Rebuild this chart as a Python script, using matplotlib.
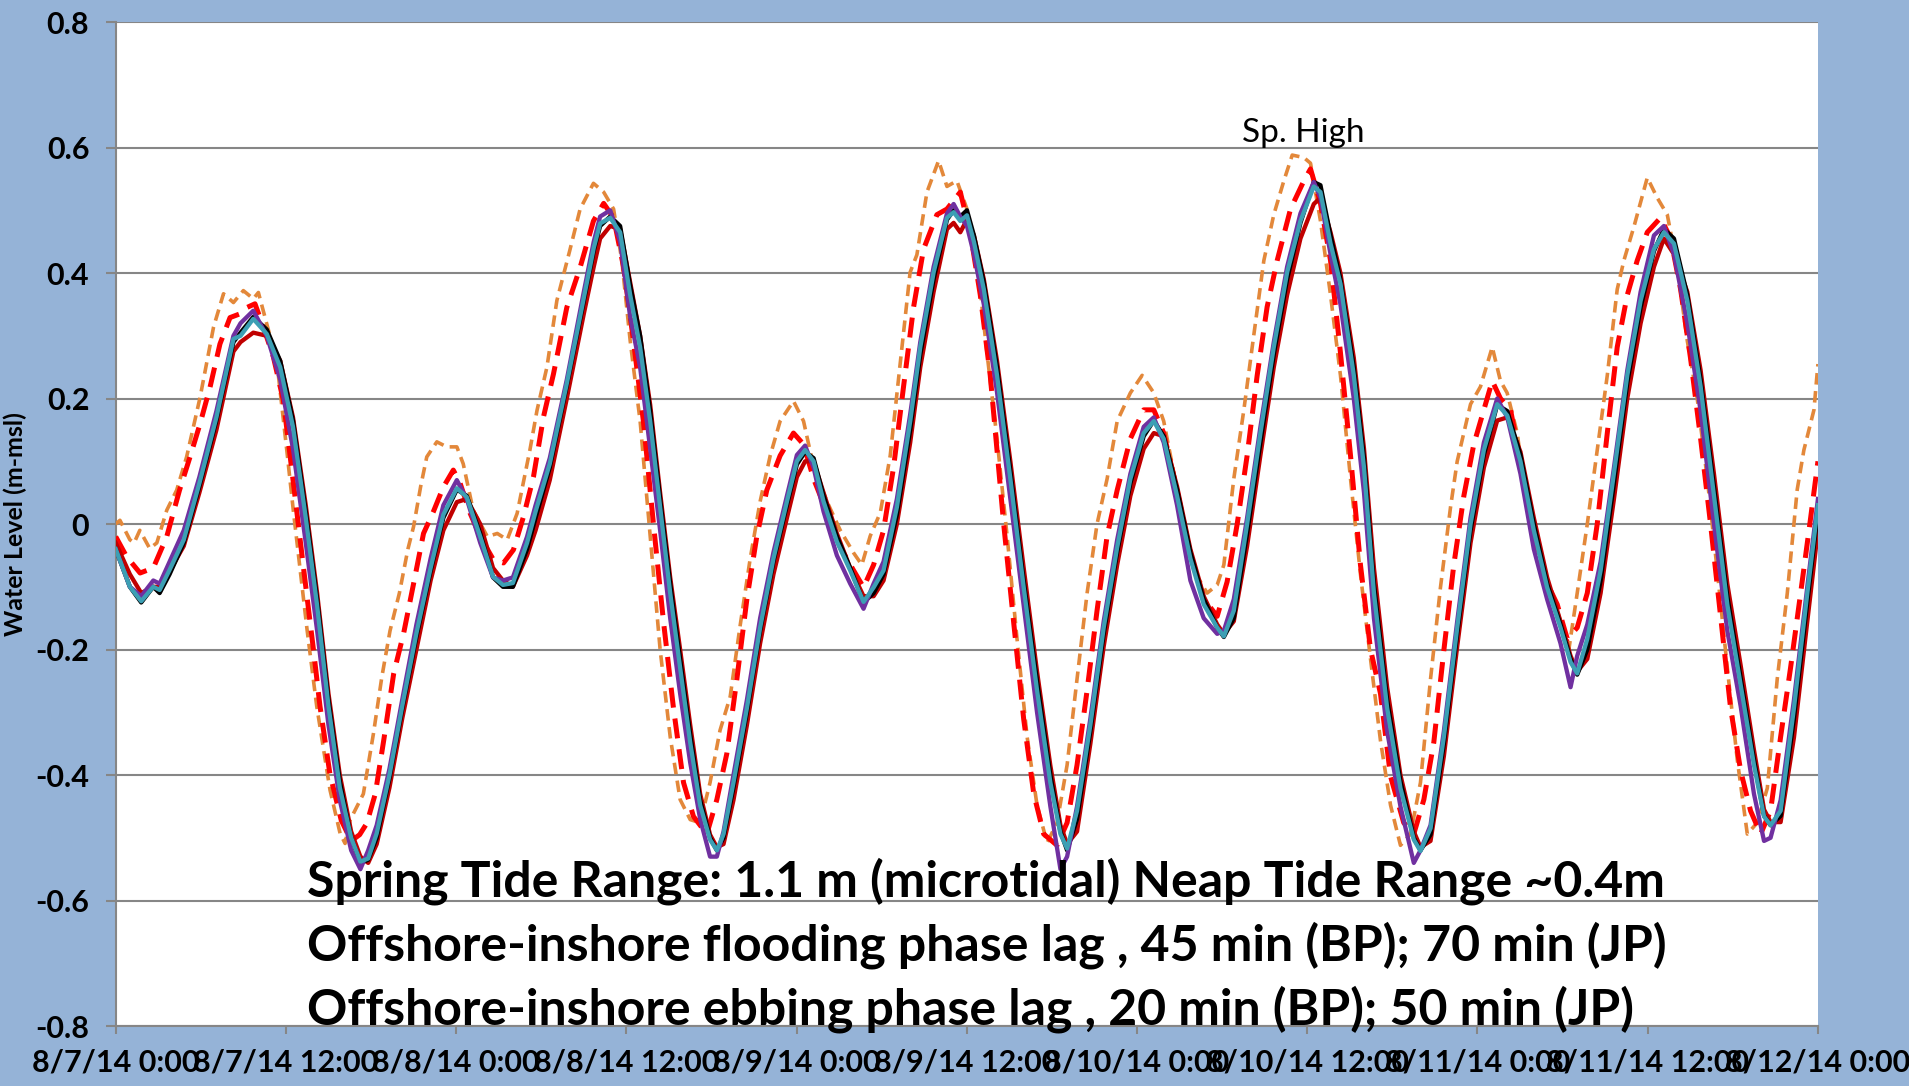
import matplotlib
matplotlib.use('Agg')
import matplotlib.pyplot as plt

# 时间 (小时, 从 8/7/14 0:00 起) 与各测站水位 (m-msl)
t_solid = [0.0, 1.0, 1.8, 2.65, 3.1, 3.8, 4.8, 5.9, 7.1, 8.3, 8.8, 9.7, 10.65, 11.6, 12.5, 13.4,
           14.2, 15.0, 15.8, 16.6, 17.25, 17.8, 18.4, 19.3, 20.2, 21.2, 22.2, 23.1, 24.05, 24.75,
           25.7, 26.6, 27.3, 28.0, 29.0, 29.6, 30.6, 31.8, 33.0, 33.7, 34.15, 34.86, 35.56, 36.27,
           36.97, 37.68, 38.38, 39.09, 39.79, 40.5, 41.2, 41.9, 42.38, 42.85, 43.55, 44.5, 45.43,
           46.37, 47.32, 48.02, 48.6, 49.2, 49.9, 50.84, 51.78, 52.72, 53.43, 54.13, 55.07, 56.01,
           56.72, 57.66, 58.6, 59.07, 59.54, 60.01, 60.5, 61.2, 62.13, 63.07, 64.01, 64.95, 65.89,
           66.6, 67.07, 67.77, 68.71, 69.65, 70.6, 71.53, 72.47, 73.18, 73.88, 74.82, 75.76, 76.7,
           77.65, 78.12, 78.82, 79.76, 80.7, 81.64, 82.58, 83.52, 84.46, 84.93, 85.64, 86.34, 87.28,
           88.0, 88.7, 89.63, 90.57, 91.51, 91.98, 92.69, 93.63, 94.57, 95.51, 96.45, 97.39, 98.1,
           99.03, 99.97, 100.91, 101.85, 102.56, 103.03, 103.74, 104.68, 105.62, 106.56, 107.5,
           108.44, 109.14, 109.85, 110.79, 111.73, 112.67, 113.61, 114.55, 115.49, 116.2, 116.66,
           117.37, 118.31, 119.25, 120.0]

teal = [-0.04, -0.10, -0.123, -0.10, -0.105, -0.073, -0.025, 0.065, 0.17, 0.295, 0.30, 0.327, 0.303,
        0.25, 0.155, 0.01, -0.13, -0.29, -0.42, -0.50, -0.538, -0.533, -0.493, -0.40, -0.29, -0.174,
        -0.07, 0.015, 0.057, 0.043, -0.02, -0.084, -0.097, -0.094, -0.03, 0.02, 0.096, 0.224, 0.36,
        0.44, 0.479, 0.488, 0.465, 0.365, 0.282, 0.164, 0.027, -0.11, -0.229, -0.348, -0.448, -0.503,
        -0.52, -0.494, -0.412, -0.293, -0.165, -0.055, 0.036, 0.10, 0.118, 0.10, 0.036, -0.028,
        -0.074, -0.124, -0.101, -0.074, 0.027, 0.164, 0.282, 0.401, 0.488, 0.497, 0.483, 0.492, 0.45,
        0.374, 0.237, 0.072, -0.101, -0.265, -0.412, -0.494, -0.517, -0.457, -0.32, -0.165, -0.037,
        0.072, 0.145, 0.164, 0.136, 0.045, -0.055, -0.128, -0.165, -0.179, -0.138, 0.0, 0.145, 0.282,
        0.401, 0.483, 0.538, 0.529, 0.447, 0.383, 0.237, 0.09, -0.11, -0.293, -0.421, -0.503, -0.521,
        -0.485, -0.339, -0.165, 0.0, 0.118, 0.191, 0.173, 0.10, -0.01, -0.101, -0.165, -0.22, -0.238,
        -0.183, -0.074, 0.082, 0.237, 0.356, 0.438, 0.465, 0.447, 0.356, 0.219, 0.045, -0.128, -0.256,
        -0.384, -0.466, -0.48, -0.457, -0.293, -0.11, 0.03]

black = [-0.04, -0.10, -0.125, -0.10, -0.11, -0.08, -0.03, 0.06, 0.165, 0.29, 0.305, 0.33, 0.31,
         0.26, 0.165, 0.02, -0.12, -0.28, -0.41, -0.50, -0.54, -0.535, -0.50, -0.405, -0.295, -0.18,
         -0.075, 0.01, 0.055, 0.045, -0.015, -0.085, -0.10, -0.10, -0.04, 0.01, 0.09, 0.22, 0.355,
         0.435, 0.475, 0.49, 0.475, 0.38, 0.30, 0.18, 0.04, -0.095, -0.215, -0.335, -0.44, -0.50,
         -0.52, -0.50, -0.42, -0.30, -0.17, -0.06, 0.03, 0.095, 0.115, 0.105, 0.045, -0.02, -0.07,
         -0.125, -0.11, -0.08, 0.015, 0.15, 0.27, 0.39, 0.485, 0.50, 0.49, 0.50, 0.46, 0.385, 0.25,
         0.085, -0.09, -0.25, -0.40, -0.49, -0.52, -0.47, -0.33, -0.175, -0.045, 0.065, 0.14, 0.165,
         0.14, 0.055, -0.045, -0.12, -0.165, -0.18, -0.15, -0.015, 0.13, 0.27, 0.39, 0.48, 0.545,
         0.54, 0.46, 0.39, 0.25, 0.105, -0.095, -0.28, -0.41, -0.50, -0.52, -0.495, -0.35, -0.175,
         -0.01, 0.11, 0.19, 0.18, 0.11, 0.0, -0.095, -0.16, -0.215, -0.24, -0.20, -0.09, 0.065, 0.225,
         0.345, 0.435, 0.47, 0.455, 0.365, 0.23, 0.06, -0.115, -0.245, -0.375, -0.465, -0.48, -0.465,
         -0.31, -0.125, 0.02]

dark_red = [-0.03, -0.08, -0.11, -0.10, -0.10, -0.075, -0.035, 0.05, 0.15, 0.275, 0.29, 0.305, 0.30,
            0.26, 0.17, 0.03, -0.11, -0.27, -0.40, -0.49, -0.53, -0.54, -0.51, -0.42, -0.31, -0.20,
            -0.09, -0.01, 0.035, 0.04, 0.0, -0.07, -0.09, -0.10, -0.05, -0.01, 0.07, 0.20, 0.335, 0.41,
            0.455, 0.475, 0.47, 0.385, 0.30, 0.19, 0.05, -0.085, -0.20, -0.32, -0.43, -0.495, -0.515,
            -0.51, -0.44, -0.32, -0.19, -0.08, 0.01, 0.075, 0.10, 0.10, 0.05, -0.015, -0.07, -0.115,
            -0.115, -0.09, 0.0, 0.13, 0.25, 0.37, 0.47, 0.48, 0.465, 0.485, 0.46, 0.39, 0.26, 0.10,
            -0.07, -0.235, -0.385, -0.48, -0.51, -0.49, -0.35, -0.195, -0.065, 0.045, 0.12, 0.145,
            0.14, 0.06, -0.04, -0.115, -0.16, -0.175, -0.155, -0.035, 0.11, 0.25, 0.365, 0.455, 0.51,
            0.52, 0.465, 0.40, 0.265, 0.12, -0.07, -0.26, -0.40, -0.49, -0.515, -0.505, -0.37, -0.195,
            -0.03, 0.09, 0.165, 0.17, 0.115, 0.01, -0.085, -0.155, -0.21, -0.235, -0.215, -0.11, 0.04,
            0.20, 0.32, 0.41, 0.455, 0.43, 0.37, 0.245, 0.08, -0.095, -0.225, -0.36, -0.455, -0.475,
            -0.475, -0.34, -0.155, -0.01]

purple = [-0.04, -0.10, -0.115, -0.09, -0.095, -0.06, -0.01, 0.075, 0.18, 0.30, 0.32, 0.34, 0.30,
          0.23, 0.12, -0.03, -0.17, -0.32, -0.44, -0.52, -0.55, -0.52, -0.48, -0.39, -0.28, -0.16,
          -0.055, 0.03, 0.07, 0.04, -0.03, -0.085, -0.09, -0.085, -0.02, 0.03, 0.105, 0.23, 0.37,
          0.45, 0.49, 0.50, 0.45, 0.33, 0.25, 0.12, -0.01, -0.15, -0.27, -0.38, -0.47, -0.53, -0.53,
          -0.49, -0.40, -0.28, -0.15, -0.045, 0.045, 0.11, 0.125, 0.09, 0.02, -0.05, -0.095, -0.135,
          -0.095, -0.06, 0.04, 0.175, 0.29, 0.41, 0.495, 0.51, 0.49, 0.475, 0.43, 0.35, 0.21, 0.04,
          -0.13, -0.30, -0.45, -0.55, -0.53, -0.45, -0.31, -0.155, -0.025, 0.08, 0.155, 0.17, 0.13,
          0.03, -0.09, -0.15, -0.175, -0.17, -0.12, 0.01, 0.155, 0.29, 0.41, 0.495, 0.545, 0.52, 0.43,
          0.35, 0.20, 0.05, -0.15, -0.33, -0.45, -0.54, -0.52, -0.48, -0.33, -0.155, 0.01, 0.13, 0.20,
          0.17, 0.08, -0.04, -0.12, -0.19, -0.26, -0.21, -0.16, -0.06, 0.09, 0.245, 0.37, 0.46, 0.475,
          0.43, 0.32, 0.18, 0.0, -0.17, -0.29, -0.43, -0.505, -0.50, -0.44, -0.28, -0.10, 0.04]

t_orange = [0.0, 0.3, 1.0, 1.3, 1.7, 2.4, 2.9, 3.6, 4.3, 5.0, 5.95, 6.9, 7.6, 8.3, 9.0, 9.7, 10.06,
            10.65, 11.35, 12.06, 12.53, 13.5, 14.17, 15.11, 15.82, 16.17, 16.52, 17.46, 18.17, 18.76,
            19.34, 20.0, 20.6, 21.0, 21.5, 21.93, 22.64, 23.34, 24.05, 24.5, 25.2, 26.2, 26.9, 27.6,
            28.3, 29.2, 29.7, 30.4, 31.1, 32.0, 32.74, 33.68, 34.4, 35.1, 35.68, 36.27, 36.97, 37.68,
            38.38, 39.09, 39.79, 40.5, 41.2, 41.9, 42.6, 43.32, 44.0, 44.73, 45.43, 46.14, 46.84,
            47.78, 48.49, 49.2, 50.14, 51.08, 52.02, 52.6, 53.19, 53.9, 54.6, 55.3, 56.0, 56.48,
            57.19, 58.01, 58.6, 59.3, 60.01, 60.72, 61.42, 62.13, 62.84, 63.54, 64.25, 64.95, 65.66,
            66.36, 67.07, 67.77, 68.48, 69.18, 69.89, 70.6, 71.53, 72.36, 73.18, 73.88, 74.59, 75.3,
            76.23, 76.94, 77.65, 78.12, 78.82, 79.53, 80.23, 80.94, 81.64, 82.35, 82.94, 83.76,
            84.23, 84.93, 85.64, 86.34, 87.05, 87.75, 88.46, 89.16, 89.87, 90.57, 91.28, 91.98,
            92.69, 93.39, 94.1, 94.57, 95.51, 96.21, 97.04, 97.62, 98.09, 98.8, 99.5, 100.44, 101.38,
            102.09, 102.44, 103.03, 103.74, 104.44, 105.15, 105.85, 106.32, 107.03, 107.97, 108.67,
            109.38, 110.08, 110.79, 111.49, 112.2, 112.9, 113.61, 114.31, 115.02, 115.72, 116.43,
            117.13, 117.84, 118.54, 119.01, 119.72, 120.0]
orange = [0.0, 0.006, -0.025, -0.03, -0.01, -0.039, -0.03, 0.022, 0.054, 0.107, 0.202, 0.314, 0.367,
          0.353, 0.372, 0.359, 0.369, 0.319, 0.261, 0.118, 0.02, -0.17, -0.29, -0.424, -0.493,
          -0.509, -0.472, -0.43, -0.334, -0.244, -0.17, -0.11, -0.04, -0.004, 0.06, 0.107, 0.131,
          0.123, 0.123, 0.096, 0.022, -0.02, -0.015, -0.025, 0.017, 0.118, 0.181, 0.25, 0.356,
          0.435, 0.502, 0.543, 0.529, 0.502, 0.42, 0.292, 0.164, -0.019, -0.2, -0.339, -0.439,
          -0.471, -0.476, -0.412, -0.329, -0.275, -0.165, -0.055, 0.036, 0.109, 0.164, 0.196, 0.164,
          0.091, 0.036, -0.01, -0.046, -0.065, -0.019, 0.018, 0.109, 0.255, 0.401, 0.429, 0.529,
          0.579, 0.538, 0.547, 0.502, 0.42, 0.273, 0.136, -0.019, -0.183, -0.339, -0.448, -0.508,
          -0.476, -0.384, -0.247, -0.11, 0.0, 0.072, 0.164, 0.209, 0.237, 0.209, 0.164, 0.082, -0.01,
          -0.083, -0.11, -0.097, -0.065, 0.072, 0.182, 0.301, 0.42, 0.493, 0.547, 0.588, 0.584,
          0.575, 0.483, 0.365, 0.237, 0.072, -0.08, -0.215, -0.345, -0.448, -0.512, -0.494, -0.412,
          -0.247, -0.101, 0.027, 0.1, 0.191, 0.219, 0.282, 0.228, 0.209, 0.145, 0.027, -0.065,
          -0.119, -0.174, -0.2, -0.11, 0.0, 0.118, 0.237, 0.374, 0.42, 0.474, 0.552, 0.52, 0.493,
          0.41, 0.292, 0.2, 0.072, -0.074, -0.229, -0.375, -0.494, -0.476, -0.421, -0.247, -0.11,
          0.055, 0.118, 0.182, 0.255]

t_red = [0.0, 0.77, 1.72, 2.65, 3.6, 4.5, 5.24, 5.95, 6.65, 7.35, 8.06, 8.76, 9.24, 9.82, 10.41,
         11.12, 11.82, 12.53, 13.23, 13.94, 14.4, 15.1, 15.9, 16.6, 17.2, 17.7, 18.3, 18.9, 19.6,
         20.3, 21.0, 21.7, 22.4, 23.1, 23.8, 24.28, 24.99, 25.7, 26.63, 27.34, 28.04, 28.75, 29.45,
         30.16, 30.86, 31.8, 32.74, 33.68, 34.4, 35.1, 35.8, 36.5, 37.2, 37.91, 38.62, 39.32, 40.03,
         40.73, 41.67, 42.38, 43.08, 43.79, 44.5, 45.2, 45.9, 46.84, 47.78, 48.49, 49.2, 50.14,
         51.08, 52.02, 52.72, 53.43, 54.13, 54.84, 55.54, 56.25, 56.95, 57.89, 58.6, 59.54, 60.24,
         60.95, 61.65, 62.6, 63.3, 64.01, 64.72, 65.42, 66.36, 67.07, 67.77, 68.48, 69.18, 69.89,
         70.6, 71.53, 72.47, 73.18, 73.88, 74.82, 75.76, 76.7, 77.65, 78.35, 79.06, 79.76, 80.47,
         81.17, 81.88, 82.82, 83.76, 84.23, 84.93, 85.64, 86.34, 87.05, 87.75, 88.46, 89.16, 89.87,
         90.8, 91.51, 92.22, 92.92, 93.63, 94.33, 95.04, 95.74, 96.45, 97.04, 97.62, 98.33, 99.03,
         99.74, 100.68, 101.62, 102.33, 103.03, 103.74, 104.44, 105.15, 105.85, 106.56, 107.26,
         107.97, 108.9, 109.61, 110.32, 111.02, 111.73, 112.43, 113.14, 113.84, 114.55, 115.25,
         115.96, 116.66, 117.37, 118.07, 118.78, 119.48, 120.0]
red = [-0.02, -0.052, -0.078, -0.07, -0.02, 0.054, 0.107, 0.16, 0.218, 0.287, 0.329, 0.335, 0.345,
       0.351, 0.314, 0.266, 0.197, 0.065, -0.068, -0.2, -0.29, -0.398, -0.472, -0.505, -0.495,
       -0.477, -0.43, -0.344, -0.238, -0.174, -0.095, -0.015, 0.02, 0.059, 0.086, 0.065, 0.017,
       -0.02, -0.057, -0.062, -0.041, 0.012, 0.075, 0.171, 0.239, 0.345, 0.409, 0.483, 0.511, 0.488,
       0.41, 0.292, 0.164, 0.0, -0.156, -0.293, -0.412, -0.466, -0.494, -0.439, -0.366, -0.247,
       -0.119, -0.019, 0.054, 0.109, 0.145, 0.127, 0.072, 0.018, -0.037, -0.074, -0.101, -0.065,
       -0.01, 0.091, 0.219, 0.346, 0.438, 0.493, 0.502, 0.529, 0.465, 0.365, 0.237, 0.0, -0.156,
       -0.311, -0.43, -0.494, -0.512, -0.476, -0.384, -0.265, -0.138, -0.019, 0.054, 0.136, 0.182,
       0.182, 0.145, 0.054, -0.046, -0.119, -0.147, -0.092, 0.0, 0.109, 0.237, 0.346, 0.42, 0.502,
       0.547, 0.566, 0.511, 0.42, 0.273, 0.109, -0.065, -0.2, -0.27, -0.402, -0.476, -0.494, -0.439,
       -0.348, -0.201, -0.065, 0.045, 0.127, 0.182, 0.228, 0.2, 0.182, 0.1, 0.0, -0.083, -0.128,
       -0.183, -0.165, -0.11, 0.0, 0.145, 0.282, 0.365, 0.42, 0.465, 0.488, 0.456, 0.374, 0.264,
       0.136, 0.0, -0.147, -0.293, -0.393, -0.457, -0.494, -0.457, -0.339, -0.229, -0.11, 0.009, 0.1]

x_ticks = [0, 12, 24, 36, 48, 60, 72, 84, 96, 108, 120]
x_labels = ['8/7/14 0:00', '8/7/14 12:00', '8/8/14 0:00', '8/8/14 12:00', '8/9/14 0:00',
            '8/9/14 12:00', '8/10/14 0:00', '8/10/14 12:00', '8/11/14 0:00', '8/11/14 12:00',
            '8/12/14 0:00']
y_ticks = [-0.8, -0.6, -0.4, -0.2, 0, 0.2, 0.4, 0.6, 0.8]
y_labels = ['-0.8', '-0.6', '-0.4', '-0.2', '0', '0.2', '0.4', '0.6', '0.8']

notes = ['Spring Tide Range: 1.1 m (microtidal) Neap Tide Range ~0.4m',
         'Offshore-inshore flooding phase lag , 45 min (BP); 70 min (JP)',
         'Offshore-inshore ebbing phase lag , 20 min (BP); 50 min (JP)']

font = ['Lato', 'DejaVu Sans']

fig = plt.figure(figsize=(19.09, 10.86), dpi=100, facecolor='#95B3D7')
ax = fig.add_axes([0.0606, 0.0552, 0.8917, 0.9245])
ax.set_facecolor('white')

ax.plot(t_orange, orange, color='#E3883A', lw=2.6, dashes=(3.2, 1.8), zorder=3)
ax.plot(t_red, red, color='#FF0000', lw=3.6, dashes=(4.0, 2.2), zorder=4)
ax.plot(t_solid, dark_red, color='#C00000', lw=3.1, zorder=5)
ax.plot(t_solid, black, color='black', lw=3.1, zorder=6)
ax.plot(t_solid, purple, color='#7030A0', lw=3.1, zorder=7)
ax.plot(t_solid, teal, color='#3C9FB4', lw=3.1, zorder=8)

ax.set_xlim(0, 120)
ax.set_ylim(-0.8, 0.8)
ax.set_yticks(y_ticks)
ax.set_yticklabels(y_labels, fontsize=22, fontweight='bold', family=font)
ax.set_xticks(x_ticks)
ax.set_xticklabels(x_labels, fontsize=22, fontweight='bold', family=font)
ax.tick_params(axis='y', length=7, width=1.5, color='#868686', pad=12)
ax.tick_params(axis='x', length=6, width=1.5, color='#868686', pad=10)
ax.grid(axis='y', color='#868686', lw=1.5)
ax.set_axisbelow(True)
for s in ['top', 'right']:
    ax.spines[s].set_visible(False)
for s in ['left', 'bottom']:
    ax.spines[s].set_color('#868686')
    ax.spines[s].set_linewidth(1.5)

ax.set_ylabel('Water Level (m-msl)', fontsize=18, fontweight='bold', family=font, labelpad=6)

# 注释文字
for i, s in enumerate(notes):
    ax.text(13.5, -0.594 - 0.102 * i, s, fontsize=36, fontweight='bold', family=font,
            va='baseline', ha='left', zorder=10)
ax.text(79.4, 0.609, 'Sp. High', fontsize=24, family=font, va='baseline', ha='left', zorder=10)

plt.savefig('out.png', dpi=100, facecolor=fig.get_facecolor())
plt.close()
